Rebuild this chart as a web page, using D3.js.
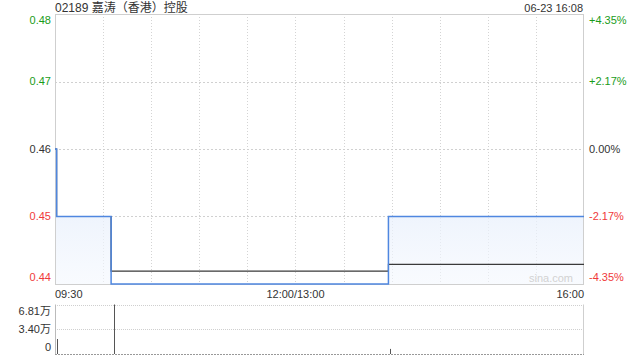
<!DOCTYPE html>
<html><head><meta charset="utf-8">
<script src="https://cdn.jsdelivr.net/npm/d3@7"></script>
<style>
html,body{margin:0;padding:0;background:#fff;}
svg{display:block;font-family:Arial,"Liberation Sans","Noto Sans CJK SC",sans-serif;}
</style></head>
<body><svg id="c" width="640" height="360"></svg>
<script>
const title = "02189 嘉涛（香港）控股";
const stamp = "06-23 16:08";
const prevClose = 0.46;
const priceTicks = [0.44, 0.45, 0.46, 0.47, 0.48];
const timeLabels = ["09:30", "12:00/13:00", "16:00"];
const priceTimes = ["09:30", "09:31", "10:05", "13:58", "16:00"];
const priceValues = [0.46, 0.45, 0.44, 0.45, 0.45];
const avgTimes = ["09:30", "09:31", "10:05", "13:58", "16:00"];
const avgValues = [0.46, 0.45, 0.4419, 0.4429, 0.4429];
const volTimes = ["09:31", "10:07", "13:59"];
const volValues = [2.06, 6.81, 0.70];
const volTicks = [0, 3.40, 6.81];

const svg = d3.select("#c");
const L = 55, R = 584, T = 14, B = 284, VT = 304.5, VB = 354;

function toMin(s){ const [h,m]=s.split(":").map(Number); let t=h*60+m-570; if(t>150) t-=60; return t; }
const x = d3.scaleLinear().domain([0,330]).range([L,R]);
const y = d3.scaleLinear().domain([0.44,0.48]).range([B,T]);
const yv = d3.scaleLinear().domain([0,6.81]).range([VB,VT]);

const colorOf = v => v > prevClose + 1e-9 ? "#1a9c1a" : (v < prevClose - 1e-9 ? "#f03a3a" : "#333");

// gradient
const defs = svg.append("defs");
const g = defs.append("linearGradient").attr("id","fillg").attr("x1",0).attr("y1",0).attr("x2",0).attr("y2",1);
g.append("stop").attr("offset","0%").attr("stop-color","#dfe9fa").attr("stop-opacity",0.9);
g.append("stop").attr("offset","100%").attr("stop-color","#f4f8fe").attr("stop-opacity",0.6);

// grid vertical
const vgrid = d3.range(30,330,30);
svg.append("g").selectAll("line").data(vgrid).join("line")
  .attr("x1",d=>Math.round(x(d))+0.5).attr("x2",d=>Math.round(x(d))+0.5)
  .attr("y1",T).attr("y2",B)
  .attr("stroke","#d4d4d4").attr("stroke-dasharray","1,2");
// grid horizontal
svg.append("g").selectAll("line").data(priceTicks.slice(1,-1)).join("line")
  .attr("x1",L).attr("x2",R)
  .attr("y1",d=>Math.round(y(d))+0.5).attr("y2",d=>Math.round(y(d))+0.5)
  .attr("stroke","#d0d0d0").attr("stroke-dasharray","2,2");

const pts = priceTimes.map((t,i)=>({m:toMin(t), v:priceValues[i]}));
const apts = avgTimes.map((t,i)=>({m:toMin(t), v:avgValues[i]}));

svg.append("path").datum(pts)
  .attr("d", d3.area().curve(d3.curveStepAfter).x(d=>x(d.m)).y0(B).y1(d=>y(d.v)))
  .attr("fill","url(#fillg)");

// border
svg.append("rect").attr("x",L+0.5).attr("y",T+0.5).attr("width",R-L-1).attr("height",B-T)
  .attr("fill","none").attr("stroke","#cfcfcf");

svg.append("path").datum(apts)
  .attr("d", d3.line().curve(d3.curveStepAfter).x(d=>x(d.m)).y(d=>y(d.v)))
  .attr("fill","none").attr("stroke","#3a3a3a").attr("stroke-width",1.2);

svg.append("path").datum(pts)
  .attr("d", d3.line().curve(d3.curveStepAfter).x(d=>x(d.m)).y(d=>y(d.v)))
  .attr("fill","none").attr("stroke","#4f87e0").attr("stroke-width",1.5);

// y labels
const fs = 11;
svg.append("g").selectAll("text").data(priceTicks).join("text")
  .attr("x",51).attr("text-anchor","end")
  .attr("y",d=> d===0.48 ? y(d)+6 : (d===0.44 ? y(d)-7 : y(d)))
  .attr("dy","0.35em").attr("font-size",fs).attr("fill",colorOf)
  .text(d=>d.toFixed(2));
svg.append("g").selectAll("text").data(priceTicks).join("text")
  .attr("x",589).attr("text-anchor","start")
  .attr("y",d=> d===0.48 ? y(d)+6 : (d===0.44 ? y(d)-7 : y(d)))
  .attr("dy","0.35em").attr("font-size",fs).attr("fill",colorOf)
  .text(d=>{ const p=(d/prevClose-1)*100; return (p>0.001?"+":"")+p.toFixed(2)+"%"; });

// title
svg.append("text").attr("x",L).attr("y",8).attr("dy","0.35em").attr("font-size",12).attr("fill","#333").text(title);
svg.append("text").attr("x",583).attr("y",8).attr("dy","0.35em").attr("text-anchor","end").attr("font-size",11).attr("fill","#333").text(stamp);

// watermark
svg.append("text").attr("x",573).attr("y",278).attr("dy","0.35em").attr("text-anchor","end")
  .attr("font-size",11).attr("fill","#d2d2d2").text("sina.com");

// time labels
const tpos = [0,150,330];
svg.append("g").selectAll("text").data(timeLabels).join("text")
  .attr("x",(d,i)=>x(tpos[i]))
  .attr("text-anchor",(d,i)=> i===0?"start":(i===2?"end":"middle"))
  .attr("y",294).attr("dy","0.35em").attr("font-size",fs).attr("fill","#333").text(d=>d);

// volume panel
svg.append("line").attr("x1",L).attr("x2",R).attr("y1",Math.round(VT)+0.5).attr("y2",Math.round(VT)+0.5)
  .attr("stroke","#cfcfcf").attr("stroke-dasharray","1,1");
svg.append("line").attr("x1",L).attr("x2",R).attr("y1",Math.round(yv(3.40))+0.5).attr("y2",Math.round(yv(3.40))+0.5)
  .attr("stroke","#cfcfcf").attr("stroke-dasharray","1,1");
svg.append("line").attr("x1",L).attr("x2",R).attr("y1",VB+0.5).attr("y2",VB+0.5)
  .attr("stroke","#999").attr("stroke-dasharray","2,1");
svg.append("line").attr("x1",L+0.5).attr("x2",L+0.5).attr("y1",VT).attr("y2",VB).attr("stroke","#bbb");
svg.append("line").attr("x1",R-0.5).attr("x2",R-0.5).attr("y1",VT).attr("y2",VB).attr("stroke","#cfcfcf");

svg.append("g").selectAll("line").data(volTimes.map((t,i)=>({m:toMin(t),v:volValues[i]}))).join("line")
  .attr("x1",d=>Math.round(x(d.m))+0.5).attr("x2",d=>Math.round(x(d.m))+0.5)
  .attr("y1",VB).attr("y2",d=>yv(d.v))
  .attr("stroke","#555").attr("stroke-width",1);

svg.append("g").selectAll("text").data(volTicks).join("text")
  .attr("x",51).attr("text-anchor","end")
  .attr("y",d=> d===6.81 ? yv(d)+7 : (d===0 ? yv(d)-7 : yv(d)))
  .attr("dy","0.35em").attr("font-size",fs).attr("fill","#333")
  .text(d=> d===0 ? "0" : d.toFixed(2)+"万");
</script></body></html>
